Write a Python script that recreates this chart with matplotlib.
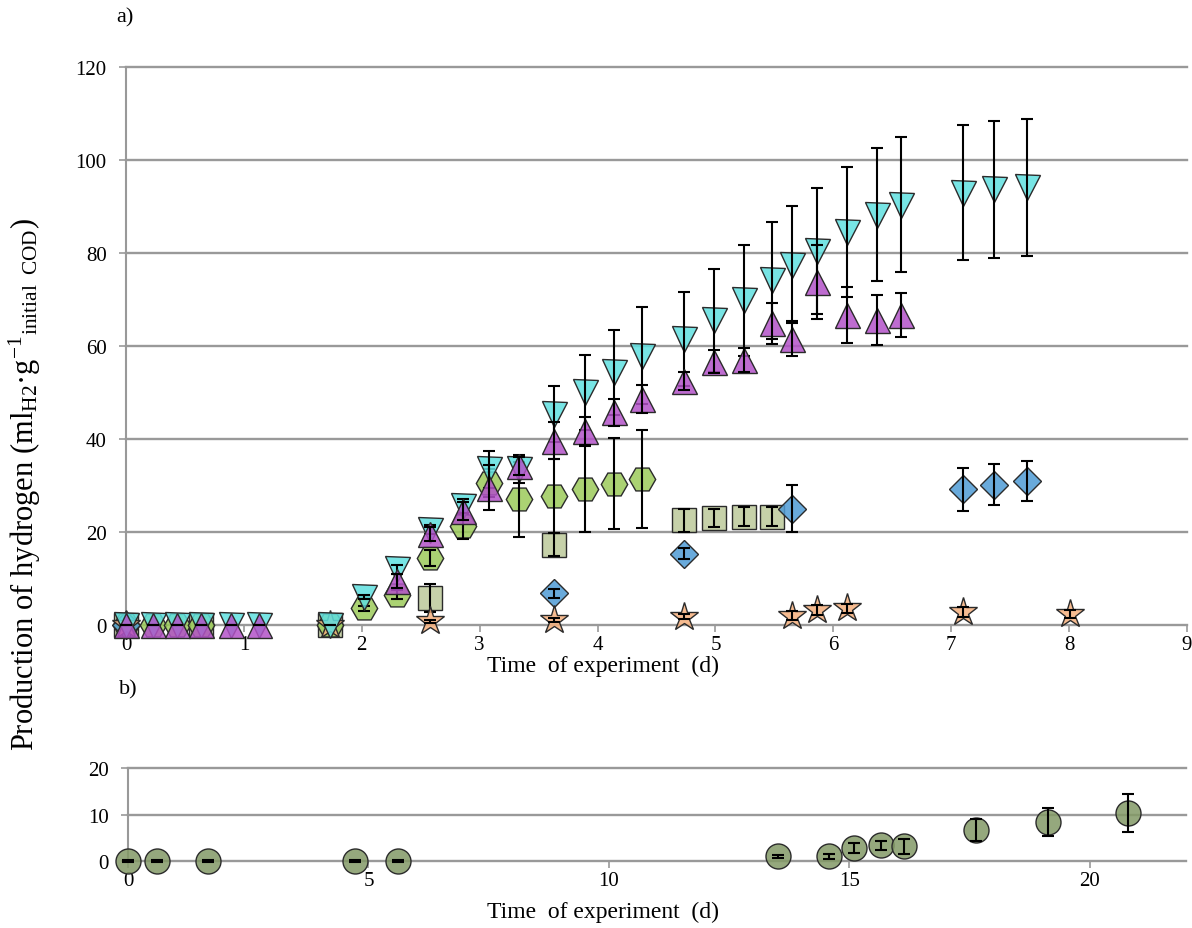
import matplotlib
matplotlib.use('Agg')
import matplotlib.pyplot as plt
from matplotlib.colors import to_rgba

plt.rcParams['font.family'] = ['Liberation Serif', 'DejaVu Serif']
plt.rcParams['mathtext.fontset'] = 'custom'
plt.rcParams['mathtext.rm'] = 'Liberation Serif'
plt.rcParams['mathtext.it'] = 'Liberation Serif:italic'

# ---- panel a) data ----
cyan_x = [0, 0.23, 0.43, 0.64, 0.89, 1.13, 1.73, 2.02, 2.3, 2.58, 2.86, 3.08, 3.33, 3.63, 3.89,
          4.14, 4.38, 4.73, 4.99, 5.24, 5.48, 5.65, 5.86, 6.12, 6.37, 6.57, 7.1, 7.36, 7.64]
cyan_y = [0, 0, 0, 0, 0, 0, 0, 6, 12, 20.5, 25.5, 33.5, 33.5, 45.3, 50,
          54.3, 57.9, 61.5, 65.5, 69.8, 74.1, 77.5, 80.4, 84.5, 88.2, 90.4, 93, 93.7, 94.1]
cyan_err = [0, 0, 0, 0, 0, 0, 0, 0.5, 1, 1, 1.5, 4, 3, 6, 8,
            9.2, 10.4, 10.2, 11, 12, 12.6, 12.6, 13.5, 14, 14.3, 14.5, 14.5, 14.7, 14.7]

purple_x = [0, 0.23, 0.43, 0.64, 0.89, 1.13, 2.3, 2.58, 2.86, 3.08, 3.33, 3.63, 3.89, 4.14,
            4.38, 4.73, 4.99, 5.24, 5.48, 5.65, 5.86, 6.12, 6.37, 6.57]
purple_y = [0, 0, 0, 0, 0, 0, 9.5, 19.5, 24.5, 29.5, 34.2, 39.6, 41.7, 45.7,
            48.6, 52.5, 56.6, 57, 64.9, 61.6, 73.8, 66.7, 65.6, 66.7]
purple_err = [0, 0, 0, 0, 0, 0, 1.5, 1.5, 2, 4.8, 2, 4, 3, 3,
              3, 2, 2.5, 2.5, 4.4, 3.7, 8, 6, 5.4, 4.7]

hex_x = [0, 0.23, 0.43, 0.64, 1.73, 2.02, 2.3, 2.58, 2.86, 3.08, 3.33, 3.63, 3.89, 4.14, 4.38]
hex_y = [0, 0, 0, 0, 0, 3.6, 6.5, 14.4, 21.2, 30.5, 27, 27.8, 29.3, 30.4, 31.4]
hex_err = [0, 0, 0, 0, 0, 0.5, 1, 1.7, 2.7, 3, 8, 8, 9.2, 9.8, 10.5]

sq_x = [0, 0.64, 1.73, 2.58, 3.63, 4.73, 4.99, 5.24, 5.48]
sq_y = [0, 0, 0, 5.8, 17.3, 22.5, 23, 23.3, 23.3]
sq_err = [0, 0, 0.5, 3, 2.5, 2.4, 2, 2, 2]

dia_x = [0, 3.63, 4.73, 5.65, 7.1, 7.36, 7.64]
dia_y = [0, 6.8, 15.3, 25, 29.2, 30.2, 30.9]
dia_err = [0, 1, 1.2, 5, 4.6, 4.5, 4.3]

star_x = [0, 1.73, 2.58, 3.63, 4.73, 5.65, 5.86, 6.12, 7.1, 8.01]
star_y = [0, 0, 0.8, 1.1, 1.8, 2, 3.2, 3.6, 2.8, 2.4]
star_err = [0, 0, 0.3, 0.5, 0.5, 1, 1, 1, 1, 0.8]

# ---- panel b) data ----
b_x = [0, 0.6, 1.67, 4.73, 5.62, 13.52, 14.57, 15.1, 15.65, 16.14, 17.64, 19.14, 20.8]
b_y = [0, 0, 0, 0, 0, 1, 1, 2.8, 3.4, 3.2, 6.6, 8.3, 10.4]
b_err = [0.2, 0.2, 0.2, 0.2, 0.2, 0.4, 0.5, 1, 1, 1.6, 2.4, 3, 4.1]

grid_c = '#999999'


def draw(ax, x, y, err, marker, color, ms, z):
    ax.plot(x, y, ls='none', marker=marker, ms=ms, mfc=to_rgba(color, 0.85),
            mec='#2b2b2b', mew=1.0, zorder=z, clip_on=False)
    ax.errorbar(x, y, yerr=err, fmt='none', ecolor='black', elinewidth=1.5,
                capsize=4, capthick=1.5, zorder=z + 0.5, clip_on=False)


def style(ax, xlim, ylim, yticks, xticks):
    ax.set_xlim(*xlim)
    ax.set_ylim(*ylim)
    ax.set_yticks(yticks)
    ax.set_xticks(xticks)
    for s in ['top', 'right', 'bottom']:
        ax.spines[s].set_visible(False)
    ax.spines['left'].set_color(grid_c)
    ax.spines['left'].set_linewidth(1.5)
    for yv in yticks:
        ax.axhline(yv, color=grid_c, lw=1.7, zorder=0.5, clip_on=False)
    ax.tick_params(axis='both', colors=grid_c, labelcolor='black', labelsize=15,
                   width=1.2, length=5, direction='out')
    ax.tick_params(axis='x', pad=2)
    ax.tick_params(axis='y', pad=9)


fig = plt.figure(figsize=(11.92, 9.29), dpi=100)
ax1 = fig.add_axes([0.1057, 0.3262, 0.8901, 0.6006])
ax2 = fig.add_axes([0.1074, 0.0721, 0.8876, 0.1001])

style(ax1, (0, 9), (0, 120), range(0, 121, 20), range(0, 10))
draw(ax1, sq_x, sq_y, sq_err, 's', '#BCC99A', 17, 2)
draw(ax1, hex_x, hex_y, hex_err, 'H', '#9CCB5A', 19, 3)
draw(ax1, dia_x, dia_y, dia_err, 'D', '#4F9BD5', 14, 4)
draw(ax1, star_x, star_y, star_err, '*', '#F5B07D', 21, 5)
draw(ax1, cyan_x, cyan_y, cyan_err, 'v', '#5FE0E0', 18, 6)
draw(ax1, purple_x, purple_y, purple_err, '^', '#B352C8', 18, 7)
ax1.set_xlabel('Time  of experiment  (d)', fontsize=17)
ax1.xaxis.set_label_coords((603 - 126) / 1061, -0.054)

style(ax2, (0, 22), (0, 20), [0, 10, 20], [0, 5, 10, 15, 20])
draw(ax2, b_x, b_y, b_err, 'o', '#839966', 18, 3)
ax2.set_xlabel('Time  of experiment  (d)', fontsize=17)
ax2.xaxis.set_label_coords((603 - 128) / 1058, -0.43)

fig.text(125 / 1192, 1 - 18 / 929, 'a)', fontsize=16, va='center', ha='center')
fig.text(128 / 1192, 1 - 690 / 929, 'b)', fontsize=16, va='center', ha='center')
fig.text(25 / 1192, 1 - 485 / 929,
         r'Production of hydrogen (ml$_{\mathrm{H2}}$·g$^{\mathrm{-1}}$$_{\mathrm{initial\ \ COD}}$)',
         rotation=90, fontsize=22, va='center', ha='center')

fig.savefig('out.png', dpi=100)
